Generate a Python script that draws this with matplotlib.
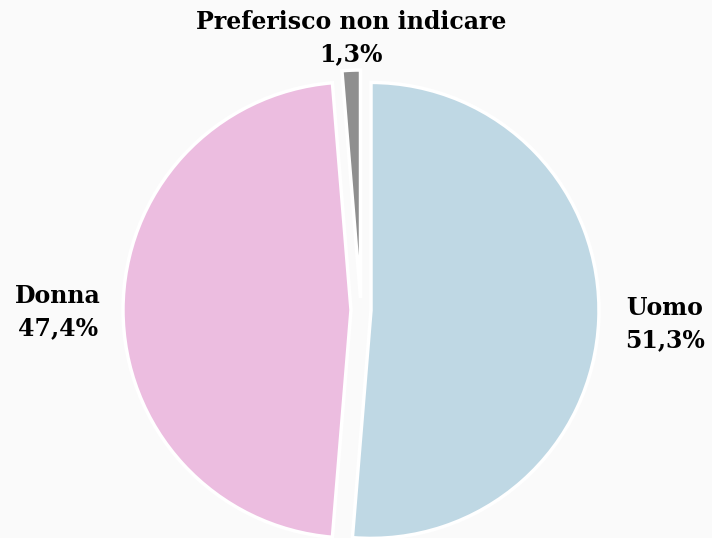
import numpy
import matplotlib
matplotlib.use('Agg')
import matplotlib.pyplot as plt

# dati
categorie = ['Uomo', 'Donna', 'Preferisco non indicare']
percentuali = [51.3, 47.4, 1.3]
colori = ['#bfd8e4', '#ecbde0', '#8f8f8f']

fig = plt.figure(figsize=(7.12, 5.38), dpi=100)
fig.patch.set_facecolor('#fafafa')
ax = fig.add_axes([0, 0, 1, 1])
ax.set_facecolor('#fafafa')

cx, cy, R = 361, 228, 228

# explode in unita' dati (pixel), non relativo al raggio
wedges, _ = ax.pie(percentuali, colors=colori, startangle=90, counterclock=False,
                   explode=[10, 10, 12], radius=R, center=(cx, cy),
                   wedgeprops=dict(edgecolor='white', linewidth=2.5))

# la torta ridefinisce i limiti, li rimetto in pixel
ax.set_xlim(0, 712)
ax.set_ylim(0, 538)
ax.set_aspect('equal')
ax.axis('off')

etichette = [c + '\n' + ('%.1f' % p).replace('.', ',') + '%'
             for c, p in zip(categorie, percentuali)]
posizioni = [(665, 214), (58, 226), (351, 500)]

for testo, (x, y) in zip(etichette, posizioni):
    ax.text(x, y, testo, ha='center', va='center', fontsize=17,
            fontweight='bold', family='DejaVu Serif', linespacing=1.4,
            color='black')

fig.savefig('out.png', dpi=100, facecolor=fig.get_facecolor())
